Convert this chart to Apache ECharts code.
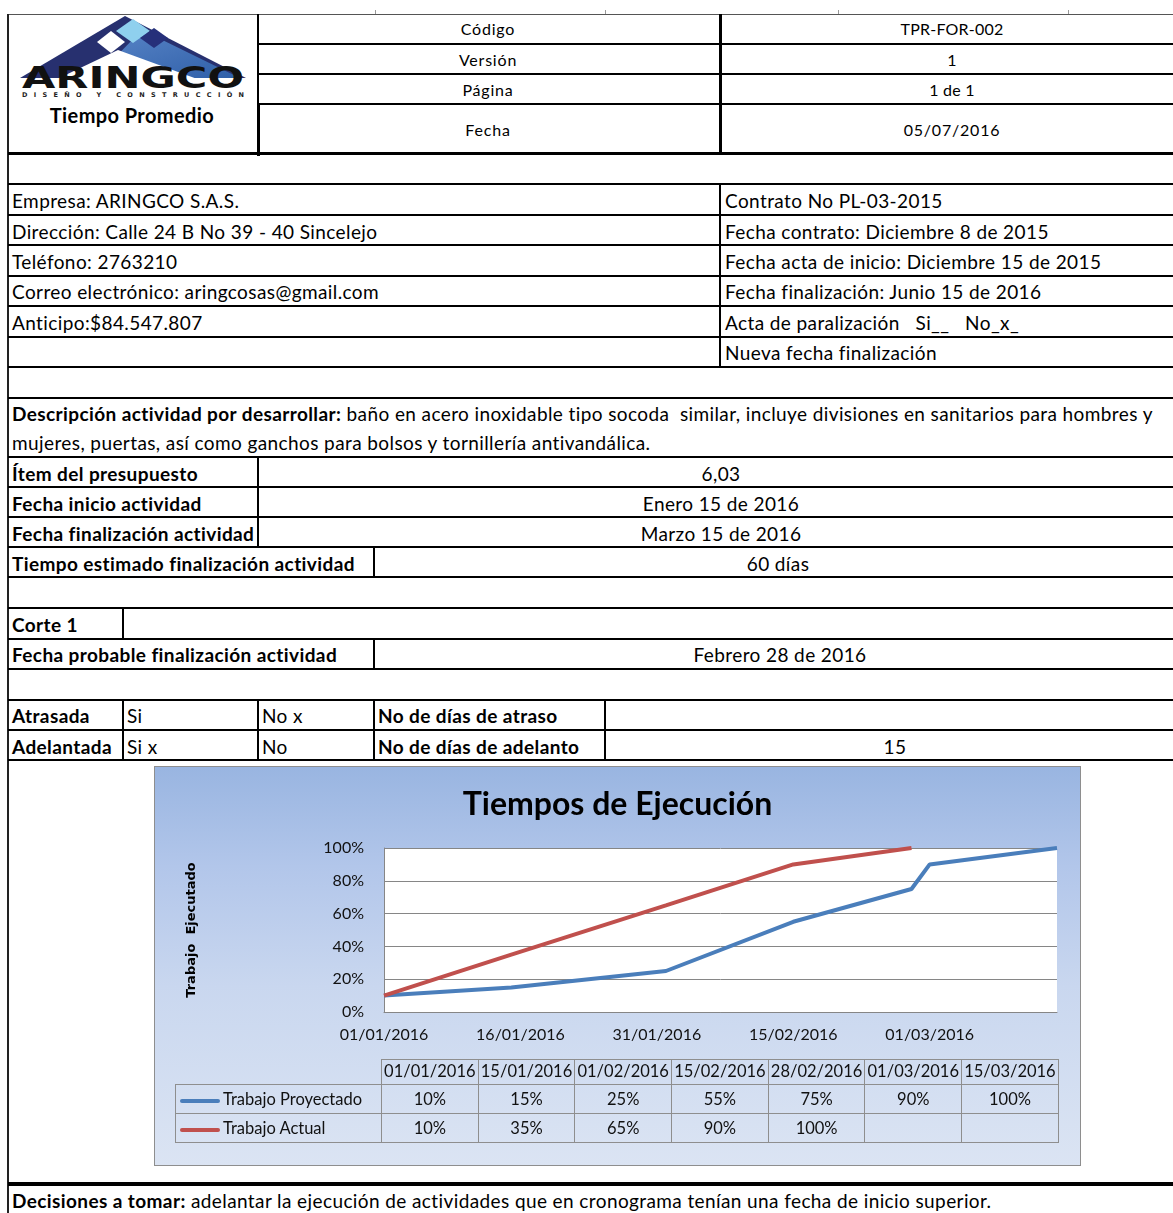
<!DOCTYPE html>
<html>
<head>
<meta charset="utf-8">
<script src="https://cdn.jsdelivr.net/npm/echarts@6/dist/echarts.min.js"></script>
<style>
  html,body{margin:0;padding:0;background:#fff;}
  #page{position:relative;width:1173px;height:1213px;overflow:hidden;font-family:Lato,"Open Sans",sans-serif;color:#000;}
  .t{position:absolute;white-space:nowrap;line-height:1;font-size:19px;letter-spacing:0.4px;}
  .hd{font-size:16px;letter-spacing:0.8px;}
  .hd2{font-size:16px;letter-spacing:0.2px;}
  #chartbox{position:absolute;left:155px;top:767px;width:925px;height:398px;outline:1px solid #8e8e8e;
    background:linear-gradient(to bottom,#99b5e1 0%,#b2c6ea 25%,#c9d7ef 55%,#dbe4f3 100%);}
  #chart{position:absolute;left:0;top:0;width:925px;height:398px;}
  #dtab{position:absolute;left:20px;top:292px;border-collapse:collapse;font-family:Lato,sans-serif;font-size:16.5px;color:#111;}
  #dtab td{border:1.5px solid #8e8e8e;padding:0;text-align:center;white-space:nowrap;overflow:hidden;}
  #dtab td.lab{text-align:left;padding-left:4px;}
  #dtab td.blank{border:none;}
  .key{display:inline-block;width:40px;height:4px;border-radius:2px;vertical-align:middle;margin-right:3px;}
</style>
</head>
<body>
<div id="page">
  <svg style="position:absolute;left:0;top:0" width="260" height="105" viewBox="0 0 260 105">
    <defs>
      <linearGradient id="rg" x1="0" y1="0" x2="1" y2="1">
        <stop offset="0" stop-color="#5a86c8"/>
        <stop offset="1" stop-color="#2f5fa8"/>
      </linearGradient>
    </defs>
    <polygon points="20,78 125,16 246,78" fill="#27306f"/>
    <polygon points="95,78 142,30 240,78" fill="url(#rg)"/>
    <polygon points="55,80 118,50 200,80" fill="#ffffff"/>
    <polygon points="111,31 125,42 111,53 97,42" fill="#ffffff"/>
    <polygon points="133,19 150,31 133,43 116,31" fill="#8fd0ee"/>
    <polygon points="154,28 168,38 154,48 140,38" fill="#26307a"/>
    <text x="22" y="88" font-family="DejaVu Sans" font-weight="900" font-size="30" textLength="222" lengthAdjust="spacingAndGlyphs" fill="#111">ARINGCO</text>
    <text x="22" y="97" font-family="DejaVu Sans" font-weight="bold" font-size="6.5" textLength="222" lengthAdjust="spacing" fill="#222">DISEÑO Y CONSTRUCCIÓN</text>
  </svg>
  <div id="chartbox"><div id="chart"></div></div>
</div>
<script>
// ---------- chart data ----------
const dates = ['01/01/2016','15/01/2016','01/02/2016','15/02/2016','28/02/2016','01/03/2016','15/03/2016'];
const projected = [10, 15, 25, 55, 75, 90, 100];
const actual = [10, 35, 65, 90, 100, null, null];
const seriesNames = ['Trabajo Proyectado', 'Trabajo Actual'];
const axisStart = '01/01/2016';
const axisEnd = '15/03/2016';
const chartTitle = 'Tiempos de Ejecución';
const yAxisTitle = 'Trabajo  Ejecutado';

// ---------- form layout helpers ----------
const page = document.getElementById('page');
function box(x, y, w, h, c) {
  const d = document.createElement('div');
  d.style.cssText = `position:absolute;left:${x}px;top:${y}px;width:${w}px;height:${h}px;background:${c || '#000'}`;
  page.appendChild(d);
}
function H(y, x1, x2, t, c) { box(x1, y - t / 2, x2 - x1, t, c); }
function V(x, y1, y2, t, c) { box(x - t / 2, y1, t, y2 - y1, c); }
function T(x, y, html, opts) {
  opts = opts || {};
  const d = document.createElement('div');
  d.className = 't' + (opts.cls ? ' ' + opts.cls : '');
  d.innerHTML = html;
  d.style.left = x + 'px';
  d.style.top = y + 'px';
  d.style.transform = opts.center ? 'translate(-50%,-50%)' : 'translateY(-50%)';
  if (opts.bold) d.style.fontWeight = 'bold';
  if (opts.size) d.style.fontSize = opts.size + 'px';
  page.appendChild(d);
}

// header frame
H(14, 8, 1173, 1, '#555');
[375, 605, 838, 1068].forEach(x => V(x, 10, 14, 1, '#999'));
V(8, 14, 1213, 2, '#222');
V(258, 14, 104, 1.5);
V(258, 104, 156, 3);
V(720, 14, 153, 3);
H(44, 258, 1173, 2.5);
H(74, 258, 1173, 2.5);
H(104, 258, 1173, 2.5);
H(153, 8, 1173, 3);

T(488, 29, 'Código', {center: true, cls: 'hd'});
T(488, 60, 'Versión', {center: true, cls: 'hd'});
T(488, 90, 'Página', {center: true, cls: 'hd'});
T(488, 130, 'Fecha', {center: true, cls: 'hd'});
T(952, 29, 'TPR-FOR-002', {center: true, cls: 'hd2'});
T(952, 60, '1', {center: true, cls: 'hd2'});
T(952, 90, '1 de 1', {center: true, cls: 'hd2'});
T(952, 130, '05/07/2016', {center: true, cls: 'hd'});
T(132, 115, 'Tiempo Promedio', {center: true, bold: true, size: 20});

// body rows
[184, 215, 245, 276, 306, 337, 367, 398, 457, 487, 517, 547, 577, 608, 639, 669, 700, 730, 760].forEach(y => H(y, 8, 1173, 2.5));
H(1184, 8, 1173, 3.5);
V(720, 184, 368, 2.5);
V(258, 457, 547, 2.5);
V(374, 547, 577, 2.5);
V(374, 639, 669, 2.5);
V(123, 608, 639, 2.5);
V(123, 700, 760, 2.5);
V(258, 700, 760, 1.5);
V(374, 700, 760, 2.5);
V(605, 700, 760, 2.5);

T(12, 200, 'Empresa: ARINGCO S.A.S.');
T(12, 231, 'Dirección: Calle 24 B No 39 - 40 Sincelejo');
T(12, 261, 'Teléfono: 2763210');
T(12, 291, 'Correo electrónico: aringcosas@gmail.com');
T(12, 322, 'Anticipo:$84.547.807');
T(725, 200, 'Contrato No PL-03-2015');
T(725, 231, 'Fecha contrato: Diciembre 8 de 2015');
T(725, 261, 'Fecha acta de inicio: Diciembre 15 de 2015');
T(725, 291, 'Fecha finalización: Junio 15 de 2016');
T(725, 322, 'Acta de paralización&nbsp;&nbsp; Si__&nbsp;&nbsp; No_x_');
T(725, 352, 'Nueva fecha finalización');

T(12, 413, '<b>Descripción actividad por desarrollar:</b> baño en acero inoxidable tipo socoda&nbsp; similar, incluye divisiones en sanitarios para hombres y');
T(12, 442, 'mujeres, puertas, así como ganchos para bolsos y tornillería antivandálica.');
T(12, 473, 'Ítem del presupuesto', {bold: true});
T(721, 473, '6,03', {center: true});
T(12, 503, 'Fecha inicio actividad', {bold: true});
T(721, 503, 'Enero 15 de 2016', {center: true});
T(12, 533, 'Fecha finalización actividad', {bold: true});
T(721, 533, 'Marzo 15 de 2016', {center: true});
T(12, 563, 'Tiempo estimado finalización actividad', {bold: true});
T(778, 563, '60 días', {center: true});
T(12, 624, 'Corte 1', {bold: true});
T(12, 654, 'Fecha probable finalización actividad', {bold: true});
T(780, 654, 'Febrero 28 de 2016', {center: true});
T(12, 715, 'Atrasada', {bold: true});
T(127, 715, 'Si');
T(262, 715, 'No x');
T(378, 715, 'No de días de atraso', {bold: true});
T(12, 746, 'Adelantada', {bold: true});
T(127, 746, 'Si x');
T(262, 746, 'No');
T(378, 746, 'No de días de adelanto', {bold: true});
T(895, 746, '15', {center: true});
T(12, 1200, '<b>Decisiones a tomar:</b> adelantar la ejecución de actividades que en cronograma tenían una fecha de inicio superior.');

// ---------- chart ----------
function parseDMY(s) { const p = s.split('/').map(Number); return Date.UTC(p[2], p[1] - 1, p[0]); }
const base = parseDMY(axisStart);
const DAY = 86400000;
function dayOf(s) { return Math.round((parseDMY(s) - base) / DAY); }
function pad(n) { return (n < 10 ? '0' : '') + n; }
function fmtDay(v) { const d = new Date(base + v * DAY); return pad(d.getUTCDate()) + '/' + pad(d.getUTCMonth() + 1) + '/' + d.getUTCFullYear(); }
function pct(v) { return v == null ? '' : v + '%'; }

const chart = echarts.init(document.getElementById('chart'), null, {renderer: 'canvas'});
const colors = ['#4a7ebb', '#c0504d'];
chart.setOption({
  animation: false,
  backgroundColor: 'transparent',
  title: {
    text: chartTitle, left: 'center', top: 22, padding: 0,
    textStyle: {fontFamily: 'Lato', fontWeight: 'bold', fontSize: 32, color: '#000'}
  },
  grid: {left: 229, top: 81, width: 673, height: 164, show: true, backgroundColor: '#fff', borderWidth: 0},
  xAxis: {
    type: 'value', min: 0, max: dayOf(axisEnd), interval: 15,
    axisLine: {show: true, lineStyle: {color: '#868686', width: 1}},
    axisTick: {show: false},
    splitLine: {show: false},
    axisLabel: {formatter: fmtDay, showMaxLabel: false, margin: 15, color: '#111', fontFamily: 'Lato', fontSize: 16}
  },
  yAxis: {
    type: 'value', min: 0, max: 100, interval: 20,
    name: yAxisTitle, nameLocation: 'middle', nameGap: 186, nameRotate: 90,
    nameTextStyle: {fontFamily: 'DejaVu Sans', fontWeight: 'bold', fontSize: 13, color: '#000'},
    axisLine: {show: true, lineStyle: {color: '#868686', width: 1}},
    axisTick: {show: false},
    splitLine: {show: true, lineStyle: {color: '#868686', width: 1}},
    axisLabel: {formatter: '{value}%', margin: 20, color: '#111', fontFamily: 'Lato', fontSize: 16}
  },
  series: [
    {name: seriesNames[0], type: 'line', showSymbol: false, lineStyle: {width: 4, color: colors[0]}, itemStyle: {color: colors[0]},
     data: projected.map((v, i) => [dayOf(dates[i]), v])},
    {name: seriesNames[1], type: 'line', showSymbol: false, lineStyle: {width: 4, color: colors[1]}, itemStyle: {color: colors[1]},
     data: actual.map((v, i) => [dayOf(dates[i]), v]).filter(p => p[1] != null)}
  ]
});

// data table under the plot, built from the same arrays
const tab = document.createElement('table');
tab.id = 'dtab';
let html = '<colgroup><col style="width:206px">' + dates.map(() => '<col style="width:96.7px">').join('') + '</colgroup>';
html += '<tr style="height:25px"><td class="blank"></td>' + dates.map(d => '<td style="vertical-align:top;line-height:22px">' + d + '</td>').join('') + '</tr>';
[projected, actual].forEach((arr, k) => {
  html += '<tr style="height:29px"><td class="lab"><span class="key" style="background:' + colors[k] + '"></span>' + seriesNames[k] + '</td>' +
    arr.map(v => '<td>' + pct(v) + '</td>').join('') + '</tr>';
});
tab.innerHTML = html;
document.getElementById('chartbox').appendChild(tab);
</script>
</body>
</html>
